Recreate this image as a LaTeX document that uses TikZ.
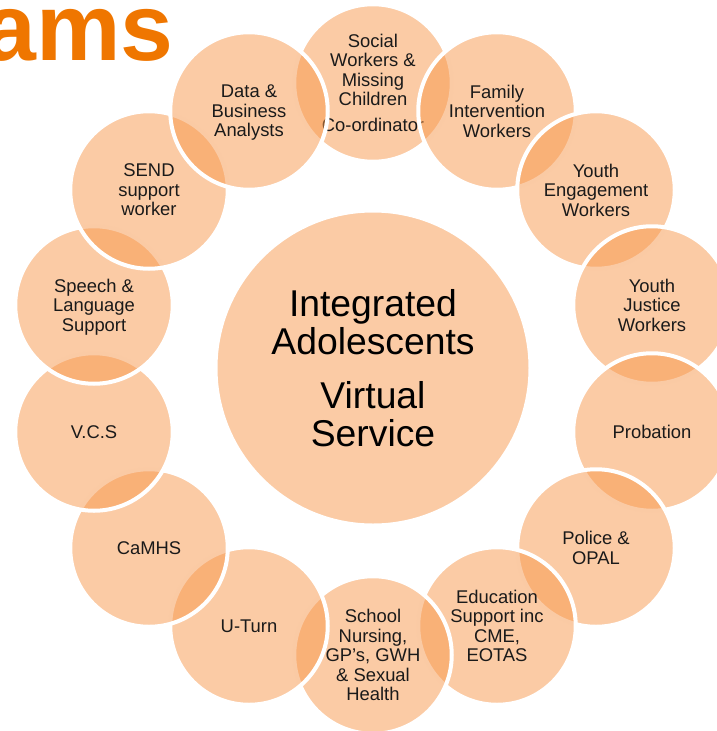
\documentclass[tikz,border=0pt]{standalone}
\usepackage{fontspec}
\setmainfont{Liberation Sans}
\definecolor{titleorange}{HTML}{EF7600}
\definecolor{discfill}{HTML}{F7974B}
\definecolor{labelink}{HTML}{1A1A1A}
\tikzset{
  member/.style={circle, minimum size=157.5pt, inner sep=0pt, align=center,
    fill=discfill, fill opacity=0.5, text opacity=1, text depth=0pt,
    draw=white, draw opacity=1, line width=4pt, text=labelink,
    font=\fontsize{18.4}{19.5}\selectfont},
  hub/.style={circle, minimum size=315pt, inner sep=0pt, align=center,
    fill=discfill, fill opacity=0.5, text opacity=1,
    draw=white, draw opacity=1, line width=4pt, text=black,
    font=\fontsize{37.3}{38.5}\selectfont}
}
\begin{document}
\begin{tikzpicture}[x=1pt, y=-1pt]
  \useasboundingbox (0, 0) rectangle (716, 731);
  \node[anchor=base east, inner sep=0pt, text=titleorange, font=\fontsize{95}{95}\selectfont\bfseries] (title) at (174, 60) {ams};

  \node[hub] (centre) at (373, 368) {Integrated\\Adolescents\\[15pt]Virtual\\Service};

  \node[member] (m0) at (373, 83) {Social\\Workers \&\\Missing\\Children\\[6.5pt]Co-ordinator};
  \node[member] (m1) at (497, 111) {Family\\Intervention\\Workers};
  \node[member] (m2) at (596, 190) {Youth\\Engagement\\Workers};
  \node[member] (m3) at (652, 305) {Youth\\Justice\\Workers};
  \node[member] (m4) at (652, 432) {Probation};
  \node[member] (m5) at (596, 548) {Police \&\\OPAL};
  \node[member] (m6) at (497, 626) {Education\\Support inc\\CME,\\EOTAS};
  \node[member] (m7) at (373, 655) {School\\Nursing,\\GP’s, GWH\\\& Sexual\\Health};
  \node[member] (m8) at (249, 626) {U-Turn};
  \node[member] (m9) at (149, 548) {CaMHS};
  \node[member] (m10) at (94, 432) {V.C.S};
  \node[member] (m11) at (94, 305) {Speech \&\\Language\\Support};
  \node[member] (m12) at (149, 190) {SEND\\support\\worker};
  \node[member] (m13) at (249, 111) {Data \&\\Business\\Analysts};
\end{tikzpicture}
\end{document}
